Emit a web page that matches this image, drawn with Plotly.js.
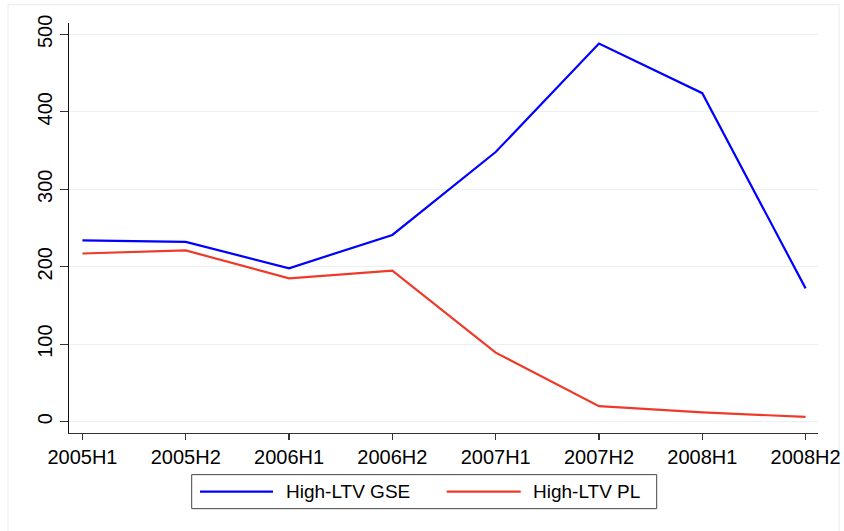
<!DOCTYPE html>
<html>
<head>
<meta charset="utf-8">
<script src="https://cdn.plot.ly/plotly-3.0.1.min.js"></script>
<style>html,body{margin:0;padding:0;background:#fff;}#chart{width:844px;height:531px;}</style>
</head>
<body>
<div id="chart"></div>
<script>
const periods = ['2005H1','2005H2','2006H1','2006H2','2007H1','2007H2','2008H1','2008H2'];
const gseValues = [234, 232, 198, 241, 348, 488, 424, 172];
const plValues = [217, 221, 185, 195, 89, 20, 12, 6];
const seriesNames = ['High-LTV GSE', 'High-LTV PL'];
const seriesColors = ['#0000ff', '#ee3a28'];
const yTicks = [0, 100, 200, 300, 400, 500];

const FONT = 'Liberation Sans, Arial, Helvetica, sans-serif';

const traces = [
  {x: periods, y: gseValues, name: seriesNames[0], type: 'scatter', mode: 'lines',
   line: {color: seriesColors[0], width: 2.2}, showlegend: false},
  {x: periods, y: plValues, name: seriesNames[1], type: 'scatter', mode: 'lines',
   line: {color: seriesColors[1], width: 2.2}, showlegend: false}
];

// custom legend (box, sample lines, labels) in paper coordinates
const W = 844, H = 531, L = 69, R = 26, T = 23, B = 98.3;
const pw = W - L - R, ph = H - T - B;
const px = v => (v - L) / pw;
const py = v => (H - B - v) / ph;

const shapes = [
  {type: 'rect', xref: 'paper', yref: 'paper', x0: px(8), x1: px(839), y0: py(540), y1: py(4.7),
   line: {color: '#e6edf0', width: 1}, fillcolor: 'rgba(0,0,0,0)', layer: 'below'},
  {type: 'rect', xref: 'paper', yref: 'paper', x0: px(191.7), x1: px(656.7), y0: py(508.3), y1: py(474.3),
   line: {color: '#444', width: 1}, fillcolor: 'rgba(0,0,0,0)'},
  {type: 'line', xref: 'paper', yref: 'paper', x0: px(200), x1: px(273), y0: py(491.3), y1: py(491.3),
   line: {color: seriesColors[0], width: 2.2}},
  {type: 'line', xref: 'paper', yref: 'paper', x0: px(446.7), x1: px(520.7), y0: py(491.3), y1: py(491.3),
   line: {color: seriesColors[1], width: 2.2}}
];
const annotations = [
  {xref: 'paper', yref: 'paper', x: px(284), y: py(491.3), xanchor: 'left', yanchor: 'middle',
   text: seriesNames[0], showarrow: false, font: {family: FONT, size: 19, color: '#000'}},
  {xref: 'paper', yref: 'paper', x: px(531), y: py(491.3), xanchor: 'left', yanchor: 'middle',
   text: seriesNames[1], showarrow: false, font: {family: FONT, size: 19, color: '#000'}}
];

const layout = {
  width: W, height: H,
  margin: {l: L, r: R, t: T, b: B, pad: 0},
  paper_bgcolor: '#ffffff', plot_bgcolor: '#ffffff',
  font: {family: FONT, size: 20, color: '#000'},
  showlegend: false,
  xaxis: {
    type: 'category', range: [-0.13, 7.12],
    showline: true, linecolor: '#333', linewidth: 1.3,
    ticks: 'outside', ticklen: 6, tickcolor: '#333', tickwidth: 1.2,
    showgrid: false, zeroline: false,
    tickfont: {family: FONT, size: 20, color: '#000'}
  },
  yaxis: {
    range: [-14.7, 514.6],
    tickvals: yTicks, ticktext: yTicks.map(String),
    tickangle: -90,
    showline: true, linecolor: '#111', linewidth: 1.3,
    ticks: 'outside', ticklen: 8, tickcolor: '#333', tickwidth: 1.2,
    showgrid: true, gridcolor: '#eaf1f3', gridwidth: 1,
    zeroline: false,
    tickfont: {family: FONT, size: 20, color: '#000'}
  },
  shapes: shapes,
  annotations: annotations
};

Plotly.newPlot('chart', traces, layout, {displayModeBar: false, staticPlot: true});
</script>
</body>
</html>
